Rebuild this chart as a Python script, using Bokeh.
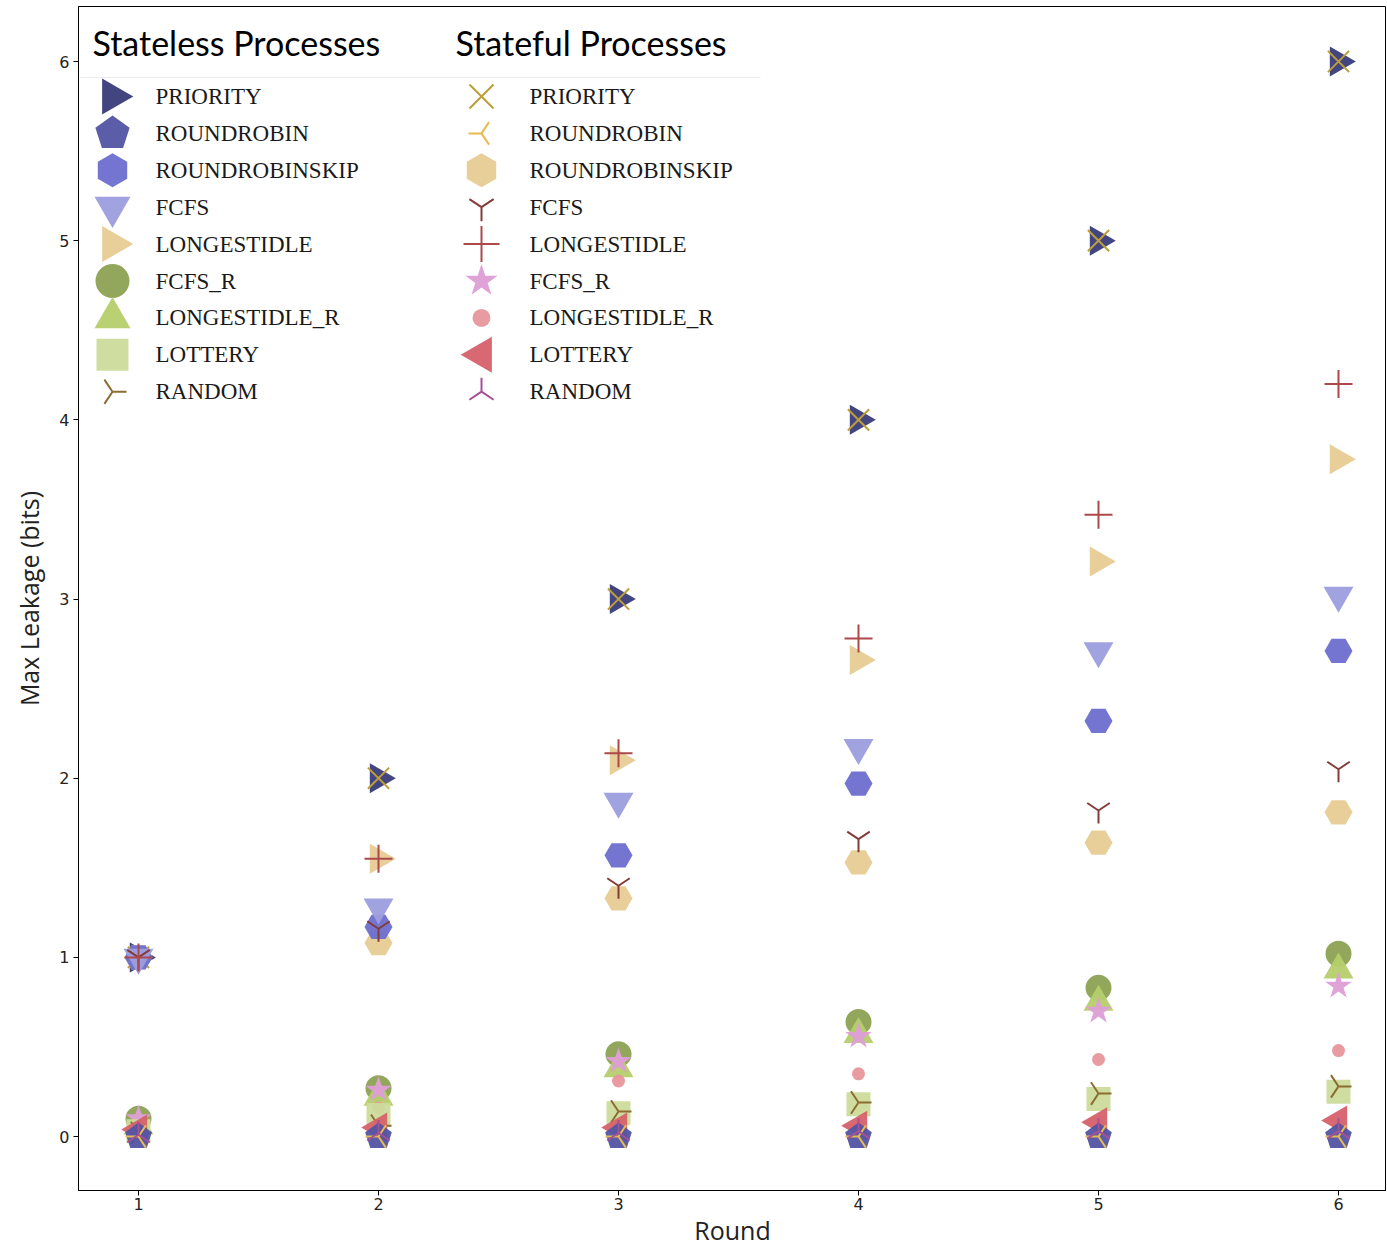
import numpy as np
from bokeh.plotting import figure
from bokeh.models import Range1d, FixedTicker
from bokeh.core.properties import value
from bokeh.embed import file_html
from bokeh.resources import INLINE

rounds = [1, 2, 3, 4, 5, 6]

# Stateless processes
sl_priority = [1.0, 2.0, 3.0, 4.0, 5.0, 6.0]
sl_roundrobin = [0.0, 0.0, 0.0, 0.0, 0.0, 0.0]
sl_rrskip = [1.0, 1.17, 1.57, 1.97, 2.32, 2.71]
sl_fcfs = [1.0, 1.28, 1.87, 2.17, 2.71, 3.02]
sl_longestidle = [1.0, 1.55, 2.10, 2.66, 3.21, 3.78]
sl_fcfs_r = [0.10, 0.27, 0.46, 0.64, 0.83, 1.02]
sl_longestidle_r = [0.06, 0.22, 0.38, 0.57, 0.75, 0.93]
sl_lottery = [0.03, 0.12, 0.13, 0.18, 0.21, 0.25]
sl_random = [0.02, 0.06, 0.14, 0.19, 0.24, 0.28]

# Stateful processes
sf_priority = [1.0, 2.0, 3.0, 4.0, 5.0, 6.0]
sf_roundrobin = [0.0, 0.0, 0.0, 0.0, 0.0, 0.0]
sf_rrskip = [1.0, 1.08, 1.33, 1.53, 1.64, 1.81]
sf_fcfs = [1.0, 1.16, 1.40, 1.66, 1.82, 2.05]
sf_longestidle = [1.0, 1.55, 2.14, 2.78, 3.47, 4.20]
sf_fcfs_r = [0.10, 0.26, 0.42, 0.56, 0.70, 0.84]
sf_longestidle_r = [0.05, 0.16, 0.31, 0.35, 0.43, 0.48]
sf_lottery = [0.04, 0.05, 0.05, 0.06, 0.08, 0.09]
sf_random = [0.01, 0.02, 0.02, 0.03, 0.03, 0.03]

labels = ["PRIORITY", "ROUNDROBIN", "ROUNDROBINSKIP", "FCFS", "LONGESTIDLE",
          "FCFS_R", "LONGESTIDLE_R", "LOTTERY", "RANDOM"]
group_titles = ["Stateless Processes", "Stateful Processes"]

x_ticks = [1, 2, 3, 4, 5, 6]
y_ticks = [0, 1, 2, 3, 4, 5, 6]

W, H = 1386, 1250
LEFT, TOP, BOTTOM = 78, 6, 60

p = figure(width=W, height=H, output_backend="svg", toolbar_location=None,
           x_range=Range1d(0.75, 6.2), y_range=Range1d(-0.301, 6.307),
           min_border_left=LEFT, min_border_right=0, min_border_top=TOP,
           min_border_bottom=BOTTOM)
p.xgrid.visible = False
p.ygrid.visible = False
p.outline_line_color = "black"
p.outline_line_width = 1

# pixel-like ranges for the legend block (image coordinates)
p.extra_x_ranges = {"lx": Range1d(LEFT, W)}
p.extra_y_ranges = {"ly": Range1d(H - BOTTOM, TOP)}

HALF_PI = np.pi / 2
ALPHA = 0.95

def filled(x, y, marker, color, size, angle=0.0, alpha=ALPHA, **kw):
    return p.scatter(x, y, marker=marker, size=size, angle=angle,
                     fill_color=color, fill_alpha=alpha, line_color=None, **kw)

def stroked(x, y, marker, color, size, angle=0.0, width=2, **kw):
    return p.scatter(x, y, marker=marker, size=size, angle=angle,
                     line_color=color, line_width=width, fill_color=None, **kw)

def pentagon(x, y, color, radius, **kw):
    try:
        return p.ngon(x, y, radius=radius, radius_units="screen", n=5,
                      angle=0.0, fill_color=color, fill_alpha=ALPHA,
                      line_color=None, **kw)
    except Exception:
        return filled(x, y, "hex", color, 2 * radius, **kw)

# ---- data marks ----
filled(rounds, sl_longestidle, "triangle", "#e7cb94", 30, angle=-HALF_PI)
filled(rounds, sl_priority, "triangle", "#393b79", 30, angle=-HALF_PI)
stroked(rounds, sf_priority, "x", "#bd9e39", 30)
filled(rounds, sf_rrskip, "hex", "#e7cb94", 28)
filled(rounds, sl_rrskip, "hex", "#6b6ecf", 28)
filled(rounds, sl_fcfs, "inverted_triangle", "#9c9ede", 30)
stroked(rounds, sf_fcfs, "y", "#843c39", 26)
stroked(rounds, sf_longestidle, "cross", "#ad494a", 28)
filled(rounds, sl_fcfs_r, "circle", "#8ca252", 26)
filled(rounds, sl_longestidle_r, "triangle", "#b5cf6b", 30)
filled(rounds, sf_fcfs_r, "star", "#de9ed6", 28)
filled(rounds, sf_longestidle_r, "circle", "#e7969c", 13)
filled(rounds, sl_lottery, "square", "#cedb9c", 24)
stroked(rounds, sl_random, "y", "#8c6d31", 26, angle=HALF_PI)
filled(rounds, sf_lottery, "triangle", "#d6616b", 30, angle=HALF_PI)
pentagon(rounds, sl_roundrobin, "#5254a3", 14)
stroked(rounds, sf_roundrobin, "y", "#e7ba52", 26, angle=-HALF_PI)
stroked(rounds, sf_random, "y", "#a55194", 26, angle=np.pi)

# ---- legend block (drawn in pixel ranges) ----
LG = dict(x_range_name="lx", y_range_name="ly")
title_x = [92, 455]
title_y = 42
key_x = [112, 481]
label_x = [155, 529]
row0, row_step = 96, 36.9
rows = [row0 + i * row_step for i in range(len(labels))]

p.line(x=[80, 760], y=[77, 77], line_color="#ececec", line_width=1, **LG)

p.text(x=title_x, y=[title_y, title_y], text=group_titles,
       text_font=value("Lato"), text_font_size="34px", text_color="black",
       text_baseline="middle", text_align="left", **LG)

for lx in label_x:
    p.text(x=[lx] * len(labels), y=rows, text=labels,
           text_font=value("Liberation Serif"), text_font_size="23px",
           text_color="#1a1a1a", text_baseline="middle", text_align="left", **LG)

kx = key_x[0]
filled([kx], [rows[0]], "triangle", "#393b79", 36, angle=-HALF_PI, **LG)
pentagon([kx], [rows[1]], "#5254a3", 18, **LG)
filled([kx], [rows[2]], "hex", "#6b6ecf", 34, angle=np.pi / 6, **LG)
filled([kx], [rows[3]], "inverted_triangle", "#9c9ede", 36, **LG)
filled([kx], [rows[4]], "triangle", "#e7cb94", 36, angle=-HALF_PI, **LG)
filled([kx], [rows[5]], "circle", "#8ca252", 34, **LG)
filled([kx], [rows[6]], "triangle", "#b5cf6b", 36, **LG)
filled([kx], [rows[7]], "square", "#cedb9c", 32, **LG)
stroked([kx], [rows[8]], "y", "#8c6d31", 28, angle=HALF_PI, **LG)

kx = key_x[1]
stroked([kx], [rows[0]], "x", "#bd9e39", 34, **LG)
stroked([kx], [rows[1]], "y", "#e7ba52", 26, angle=-HALF_PI, **LG)
filled([kx], [rows[2]], "hex", "#e7cb94", 34, angle=np.pi / 6, **LG)
stroked([kx], [rows[3]], "y", "#843c39", 28, **LG)
stroked([kx], [rows[4]], "cross", "#ad494a", 36, **LG)
filled([kx], [rows[5]], "star", "#de9ed6", 34, **LG)
filled([kx], [rows[6]], "circle", "#e7969c", 18, **LG)
filled([kx], [rows[7]], "triangle", "#d6616b", 36, angle=HALF_PI, **LG)
stroked([kx], [rows[8]], "y", "#a55194", 28, angle=np.pi, **LG)

# ---- axes ----
for ax in (p.xaxis[0], p.yaxis[0]):
    ax.major_label_text_font = "DejaVu Sans"
    ax.major_label_text_font_size = "16px"
    ax.major_label_text_color = "#222222"
    ax.major_label_standoff = 4
    ax.minor_tick_line_color = None
    ax.major_tick_out = 5
    ax.major_tick_in = 0
    ax.axis_line_color = "black"
    ax.axis_label_text_font = "Open Sans"
    ax.axis_label_text_font_size = "25px"
    ax.axis_label_text_font_style = "normal"
    ax.axis_label_text_color = "#222222"

p.xaxis[0].ticker = FixedTicker(ticks=x_ticks)
p.yaxis[0].ticker = FixedTicker(ticks=y_ticks)
p.xaxis[0].axis_label = "Round"
p.yaxis[0].axis_label = "Max Leakage (bits)"
p.xaxis[0].major_label_standoff = 2
p.xaxis[0].axis_label_standoff = 0
p.yaxis[0].axis_label_standoff = 10

open("out.html", "w").write(file_html(p, INLINE))
